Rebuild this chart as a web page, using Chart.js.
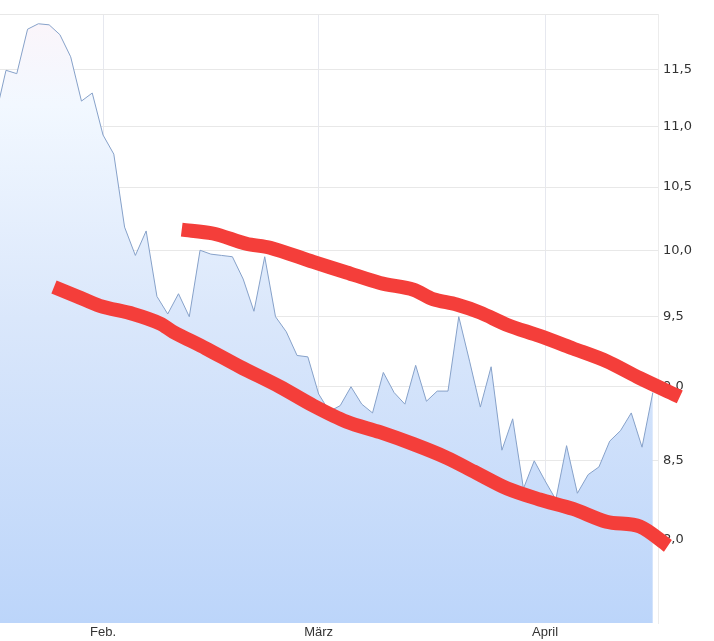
<!DOCTYPE html>
<html>
<head>
<meta charset="utf-8">
<script src="https://cdn.jsdelivr.net/npm/chart.js@4/dist/chart.umd.min.js"></script>
<style>
  body { margin: 0; background: #fff; }
  canvas { display: block; }
</style>
</head>
<body>
<canvas id="kurschart" width="714" height="641"></canvas>
<script>
// Schlusskurse pro Handelstag (erster Wert liegt links ausserhalb des Bildes)
var kurs = [11.08, 11.49, 11.46, 11.86, 11.91, 11.90, 11.81, 11.61, 11.22, 11.29,
  10.93, 10.77, 10.18, 9.96, 10.15, 9.65, 9.52, 9.67, 9.50, 10.00,
  9.97, 9.96, 9.95, 9.78, 9.54, 9.95, 9.50, 9.39, 9.22, 9.21,
  8.95, 8.83, 8.87, 9.00, 8.88, 8.82, 9.10, 8.96, 8.88, 9.15,
  8.90, 8.97, 8.97, 9.50, 9.18, 8.86, 9.14, 8.57, 8.78, 8.32,
  8.50, 8.37, 8.25, 8.60, 8.29, 8.41, 8.46, 8.63, 8.70, 8.82,
  8.59, 8.96];

// Monatsanfang (Index des ersten Handelstages) und Beschriftung
var monate = ["Feb.", "März", "April"];
var monatsStart = [10, 30, 51];

// y-Achse
var yTicks = [8, 8.5, 9, 9.5, 10, 10.5, 11, 11.5, 12];

// eingezeichnete Trendlinien (Handelstag-Index, Kurs)
var obenTag  = [17.3, 20.2, 23.3, 25.5, 29.5, 32.6, 35.7, 38.8, 40.6, 42.8, 45.0, 47.5, 50.5, 53.6, 56.7, 59.8, 63.5];
var obenKurs = [10.16, 10.13, 10.05, 10.02, 9.91, 9.83, 9.75, 9.70, 9.63, 9.59, 9.53, 9.44, 9.36, 9.27, 9.18, 9.06, 8.93];
var untenTag  = [5.45, 7.6, 9.7, 12.8, 15.3, 16.5, 19.55, 22.7, 26.4, 29.5, 32.6, 35.7, 38.8, 41.9, 44.4, 47.5, 50.5, 53.6, 56.7, 59.8, 62.4];
var untenKurs = [9.72, 9.65, 9.58, 9.52, 9.45, 9.39, 9.27, 9.14, 9.00, 8.87, 8.76, 8.69, 8.61, 8.52, 8.43, 8.32, 8.25, 8.19, 8.11, 8.08, 7.96];

var rot = "rgb(244,62,58)";

function punkte(xs, ys) {
  return xs.map(function(x, i) { return {x: x, y: ys[i]}; });
}

function flaeche(context) {
  var area = context.chart.chartArea;
  if (!area) return "rgba(200,220,250,0.6)";
  var g = context.chart.ctx.createLinearGradient(0, area.top, 0, area.bottom);
  g.addColorStop(0, "rgb(252,245,250)");
  g.addColorStop(0.15, "rgb(242,248,255)");
  g.addColorStop(0.5, "rgb(218,231,251)");
  g.addColorStop(1, "rgb(188,213,250)");
  return g;
}

new Chart(document.getElementById("kurschart"), {
  type: "line",
  data: {
    datasets: [
      {data: punkte(obenTag, obenKurs), borderColor: rot, borderWidth: 14, fill: false,
        pointRadius: 0, tension: 0.3, clip: false, borderCapStyle: "butt", borderJoinStyle: "round", order: 0},
      {data: punkte(untenTag, untenKurs), borderColor: rot, borderWidth: 14, fill: false,
        pointRadius: 0, tension: 0.3, clip: false, borderCapStyle: "butt", borderJoinStyle: "round", order: 0},
      {data: kurs.map(function(v, i) { return {x: i, y: v}; }), borderColor: "rgb(134,161,201)", borderWidth: 1,
        backgroundColor: flaeche, fill: "start", pointRadius: 0, tension: 0, order: 1}
    ]
  },
  options: {
    responsive: false,
    devicePixelRatio: 1,
    animation: false,
    layout: {padding: {top: 14, left: 0, right: 0, bottom: 0}},
    plugins: {legend: {display: false}, tooltip: {enabled: false}},
    scales: {
      x: {
        type: "linear", min: 0.443, max: 61.48,
        afterBuildTicks: function(scale) {
          scale.ticks = monatsStart.map(function(v) { return {value: v}; });
        },
        afterFit: function(scale) { scale.height = 18; },
        ticks: {
          autoSkip: false, maxRotation: 0, padding: 2, color: "#333",
          font: {family: "Liberation Sans, Arial, sans-serif", size: 13},
          callback: function(v) { return monate[monatsStart.indexOf(v)]; }
        },
        grid: {color: "rgba(200,205,220,0.45)", drawTicks: false},
        border: {display: false}
      },
      y: {
        type: "logarithmic", position: "right", min: 7.546, max: 12,
        afterBuildTicks: function(scale) {
          scale.ticks = yTicks.map(function(v) { return {value: v}; });
        },
        afterFit: function(scale) { scale.width = 56; },
        ticks: {
          padding: 5, color: "#333",
          font: {family: "DejaVu Sans, sans-serif", size: 13},
          callback: function(v) { return v === 12 ? "" : v.toFixed(1).replace(".", ","); }
        },
        grid: {color: "rgb(232,232,232)", drawTicks: false},
        border: {color: "rgb(236,236,236)"}
      }
    }
  }
});
</script>
</body>
</html>
